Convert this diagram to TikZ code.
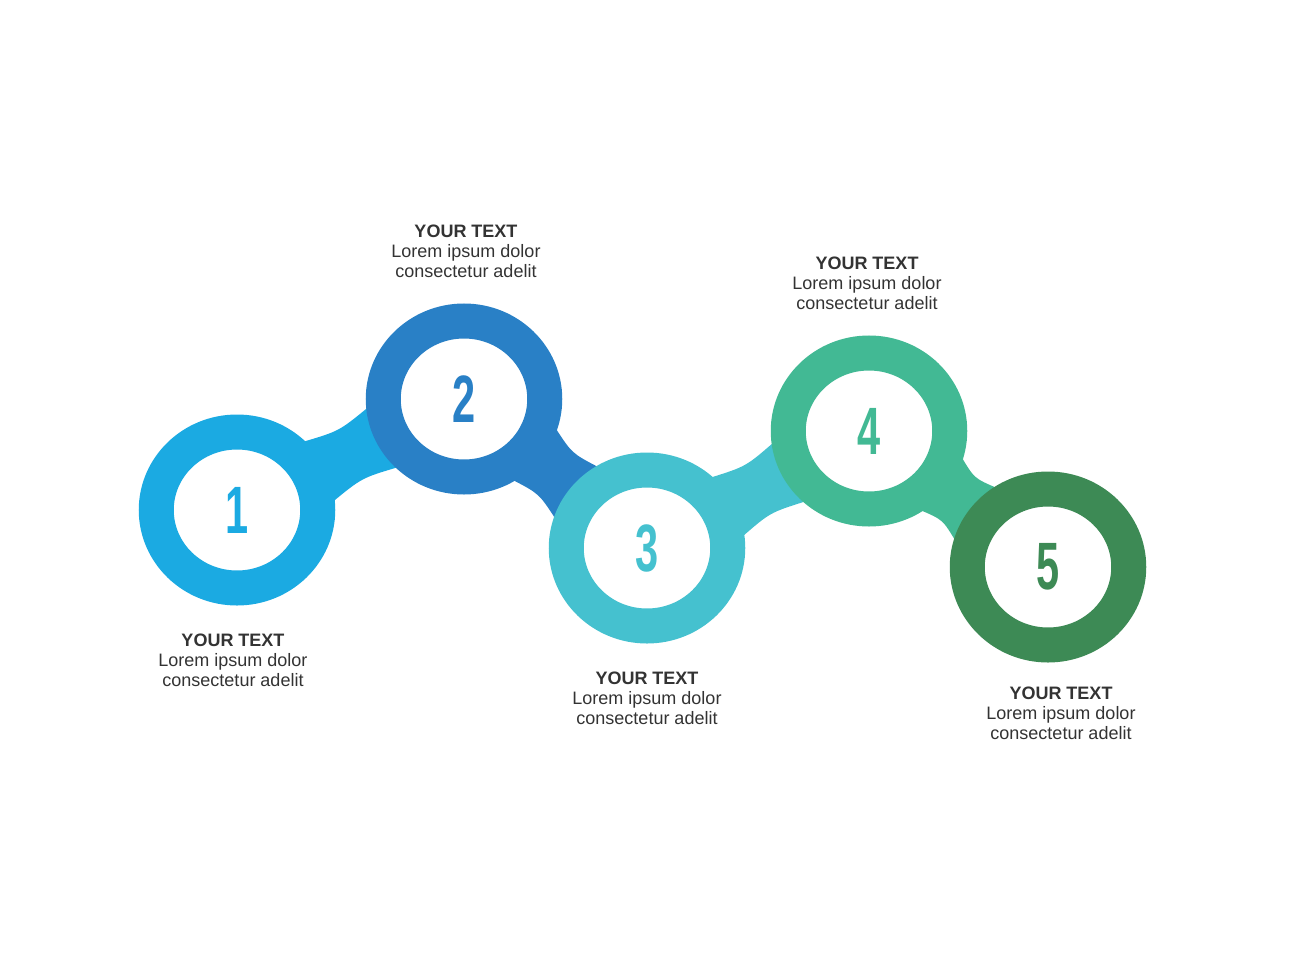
\documentclass[tikz,border=0pt]{standalone}
\usepackage{fontspec}
\setmainfont{Liberation Sans}
\newfontfamily\numfont[FakeStretch=0.62]{Liberation Sans}
\usetikzlibrary{shapes.geometric, positioning, calc, backgrounds}
\definecolor{stepa}{HTML}{1BAAE2}
\definecolor{stepb}{HTML}{2980C6}
\definecolor{stepc}{HTML}{45C1CF}
\definecolor{stepd}{HTML}{42B994}
\definecolor{stepe}{HTML}{3D8A55}
\definecolor{blurbtext}{HTML}{333333}
\tikzset{
  ring/.style={ellipse, draw=#1, line width=35pt, fill=white, text=#1,
               minimum width=161.5pt, minimum height=156pt, inner sep=0pt,
               font={\numfont\bfseries\fontsize{67}{67}\selectfont}},
  blurb/.style={align=center, text=blurbtext, inner sep=0pt, outer sep=0pt,
               font={\fontsize{18}{20}\selectfont}},
}
% band between two rings: from, to, direction, colour
\newcommand{\bridge}[4]{%
  \fill[#4] ($(#1.center)+({#3+21}:96pt and 93pt)$)
    .. controls ($(#1.center)!0.5!(#2.center)!26pt!90:(#2.center)$) ..
    ($(#2.center)+({#3+159}:96pt and 93pt)$)
    -- ($(#2.center)+({#3+201}:96pt and 93pt)$)
    .. controls ($(#1.center)!0.5!(#2.center)!26pt!-90:(#2.center)$) ..
    ($(#1.center)+({#3-21}:96pt and 93pt)$) -- cycle;}

\begin{document}
\begin{tikzpicture}[x=1pt, y=-1pt]
  \useasboundingbox (0,0) rectangle (1307,980);
  \node[ring=stepa] (n1) at (237,510) {1};
  \node[ring=stepb] (n2) at (464,399) {2};
  \node[ring=stepc] (n3) at (647,548) {3};
  \node[ring=stepd] (n4) at (869,431) {4};
  \node[ring=stepe] (n5) at (1048,567) {5};
  \node[blurb, below=28pt of n1, xshift=-4pt] (t1) {\textbf{YOUR TEXT}\\Lorem ipsum dolor\\consectetur adelit};
  \node[blurb, above=26pt of n2, xshift=2pt] (t2) {\textbf{YOUR TEXT}\\Lorem ipsum dolor\\consectetur adelit};
  \node[blurb, below=28pt of n3] (t3) {\textbf{YOUR TEXT}\\Lorem ipsum dolor\\consectetur adelit};
  \node[blurb, above=26pt of n4, xshift=-2pt] (t4) {\textbf{YOUR TEXT}\\Lorem ipsum dolor\\consectetur adelit};
  \node[blurb, below=24pt of n5, xshift=13pt] (t5) {\textbf{YOUR TEXT}\\Lorem ipsum dolor\\consectetur adelit};
  \begin{scope}[on background layer]
    \bridge{n1}{n2}{26}{stepa}
    \bridge{n2}{n3}{-39}{stepb}
    \bridge{n3}{n4}{28}{stepc}
    \bridge{n4}{n5}{-37}{stepd}
  \end{scope}
\end{tikzpicture}
\end{document}
